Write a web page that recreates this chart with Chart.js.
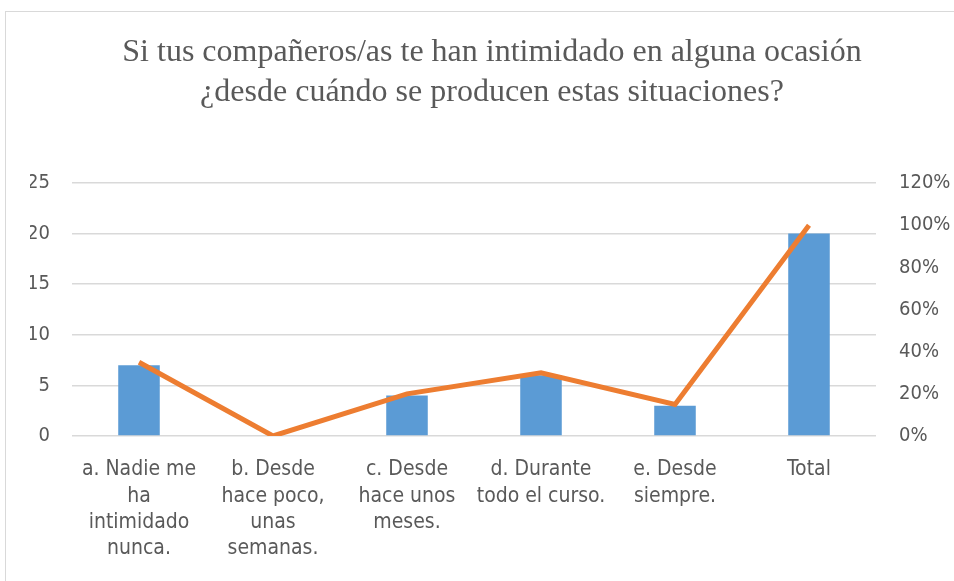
<!DOCTYPE html>
<html>
<head>
<meta charset="utf-8">
<script src="https://cdn.jsdelivr.net/npm/chart.js@4"></script>
<style>
  html, body { margin: 0; padding: 0; background: #fff; }
  #wrap { position: relative; width: 954px; height: 581px; }
</style>
</head>
<body>
<div id="wrap"><canvas id="chart" width="954" height="581"></canvas></div>
<script>
const categories = [
  ["a. Nadie me", "ha", "intimidado", "nunca."],
  ["b. Desde", "hace poco,", "unas", "semanas."],
  ["c. Desde", "hace unos", "meses."],
  ["d. Durante", "todo el curso."],
  ["e. Desde", "siempre."],
  "Total"
];
const counts = [7, 0, 4, 6, 3, 20];
const percents = [35, 0, 20, 30, 15, 100];

const textGray = "#595959";
const sansFamily = "'Liberation Sans Narrow', 'DejaVu Sans Condensed', 'Open Sans', sans-serif";
const xFont = { family: sansFamily, size: 21, lineHeight: 1.24 };
const yFont = { family: sansFamily, size: 20 };

// marco gris claro alrededor del grafico
const framePlugin = {
  id: "frame",
  beforeDraw(chart) {
    const ctx = chart.ctx;
    ctx.save();
    ctx.fillStyle = "#fff";
    ctx.fillRect(0, 0, chart.width, chart.height);
    ctx.strokeStyle = "#d9d9d9";
    ctx.lineWidth = 1;
    ctx.strokeRect(5.5, 11.5, 1200, 1200);
    ctx.restore();
  }
};

new Chart(document.getElementById("chart"), {
  data: {
    labels: categories,
    datasets: [
      {
        type: "line",
        data: percents,
        yAxisID: "y2",
        borderColor: "#ED7D31",
        borderWidth: 5,
        pointRadius: 0,
        tension: 0,
        order: 0
      },
      {
        type: "bar",
        data: counts,
        yAxisID: "y",
        backgroundColor: "#5B9BD5",
        barPercentage: 0.31,
        categoryPercentage: 1,
        order: 1
      }
    ]
  },
  options: {
    responsive: false,
    animation: false,
    layout: { padding: { left: 30, right: 0, top: 0, bottom: 0 } },
    plugins: {
      legend: { display: false },
      tooltip: { enabled: false },
      title: {
        display: true,
        text: ["Si tus compañeros/as te han intimidado en alguna ocasión", "¿desde cuándo se producen estas situaciones?"],
        color: textGray,
        font: { family: "'Liberation Serif', 'DejaVu Serif', serif", size: 32, weight: "normal", lineHeight: 1.25 },
        padding: { top: 33, bottom: 70 }
      }
    },
    scales: {
      x: {
        grid: { display: false },
        border: { display: false },
        ticks: { color: textGray, font: xFont, maxRotation: 0, autoSkip: false, padding: 13 },
        afterFit(scale) { scale.height = 145; }
      },
      y: {
        position: "left",
        min: 0,
        max: 25,
        ticks: { stepSize: 5, color: textGray, font: yFont, padding: 22 },
        grid: { color: "#d9d9d9", lineWidth: 1.5, drawTicks: false },
        border: { display: false },
        afterFit(scale) { scale.width = 42; }
      },
      y2: {
        position: "right",
        min: 0,
        max: 120,
        ticks: { stepSize: 20, color: textGray, font: yFont, padding: 23, callback: (v) => v + "%" },
        grid: { display: false, drawTicks: false },
        border: { display: false },
        afterFit(scale) { scale.width = 78; }
      }
    }
  },
  plugins: [framePlugin]
});
</script>
</body>
</html>
